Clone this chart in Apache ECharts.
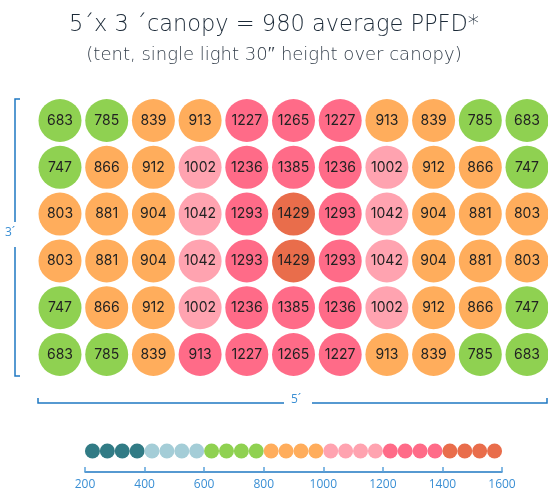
<!DOCTYPE html>
<html>
<head>
<meta charset="utf-8">
<script src="https://cdn.jsdelivr.net/npm/echarts@6/dist/echarts.min.js"></script>
<style>
  html, body { margin: 0; padding: 0; background: #fff; }
  #echarts { width: 548px; height: 491px; }
</style>
</head>
<body>
<div id="echarts"></div>
<script>
// PPFD readings, top row first, 11 columns (left -> right)
const ppfdRows = [
    [683, 785, 839, 913, 1227, 1265, 1227, 913, 839, 785, 683],
    [747, 866, 912, 1002, 1236, 1385, 1236, 1002, 912, 866, 747],
    [803, 881, 904, 1042, 1293, 1429, 1293, 1042, 904, 881, 803],
    [803, 881, 904, 1042, 1293, 1429, 1293, 1042, 904, 881, 803],
    [747, 866, 912, 1002, 1236, 1385, 1236, 1002, 912, 866, 747],
    [683, 785, 839, 913, 1227, 1265, 1227, 913, 839, 785, 683]
];
// colour band of each cell as drawn in the original (0 = 200-400 ... 6 = 1400-1600)
const bandRows = [
    [2, 2, 3, 3, 5, 5, 5, 3, 3, 2, 2],
    [2, 3, 3, 4, 5, 5, 5, 4, 3, 3, 2],
    [3, 3, 3, 4, 5, 6, 5, 4, 3, 3, 3],
    [3, 3, 3, 4, 5, 6, 5, 4, 3, 3, 3],
    [2, 3, 3, 4, 5, 5, 5, 4, 3, 3, 2],
    [2, 2, 3, 5, 5, 5, 5, 3, 3, 2, 2]
];
// legend dots along the scale
const legendValues = [225, 275, 325, 375, 425, 475, 525, 575, 625, 675, 725, 775, 825, 875,
    925, 975, 1025, 1075, 1125, 1175, 1225, 1275, 1325, 1375, 1425, 1475, 1525, 1575];
const scaleTicks = [200, 400, 600, 800, 1000, 1200, 1400, 1600];

const bandColors = ['#317b85', '#a4cdd7', '#8fd151', '#ffad5c', '#ffa3b0', '#ff6b88', '#e96d4b'];
const blue = '#1f78c2';

const chartDom = document.getElementById('echarts');
const myChart = echarts.init(chartDom);
let option;

let gridData = [];
ppfdRows.forEach((row, r) => {
    row.forEach((v, c) => {
        gridData.push({
            value: [c, r, v],
            itemStyle: { color: bandColors[bandRows[r][c]] }
        });
    });
});

let legendData = legendValues.map(v => ({
    value: [v, 1],
    itemStyle: { color: bandColors[Math.floor((v - scaleTicks[0]) / 200)] }
}));

option = {
    animation: false,
    title: {
        text: '5´x 3 ´canopy = 980 average PPFD*',
        subtext: '(tent, single light 30″ height over canopy)',
        left: 'center',
        top: 9,
        itemGap: 9,
        textStyle: {
            fontFamily: 'DejaVu Sans',
            fontWeight: 200,
            fontSize: 22.5,
            color: '#1c2a38'
        },
        subtextStyle: {
            fontFamily: 'DejaVu Sans',
            fontWeight: 200,
            fontSize: 18,
            color: '#36414d'
        }
    },
    grid: [
        { left: 60, right: 21, top: 120.5, bottom: 136.5 },
        { left: 85, right: 46, top: 451, bottom: 19 }
    ],
    xAxis: [
        { gridIndex: 0, type: 'value', min: 0, max: 10, show: false },
        {
            gridIndex: 1,
            type: 'value',
            min: 200,
            max: 1600,
            interval: 200,
            splitLine: { show: false },
            axisLine: { lineStyle: { color: blue, width: 1.5 } },
            axisTick: { inside: true, length: 5, lineStyle: { color: '#5ba3dc', width: 1.5 } },
            axisLabel: {
                color: '#3a8fd4',
                fontSize: 12,
                margin: 7,
                fontFamily: 'Open Sans',
                formatter: (v) => String(v)
            }
        }
    ],
    yAxis: [
        { gridIndex: 0, type: 'value', min: 0, max: 5, inverse: true, show: false },
        { gridIndex: 1, type: 'value', min: 0, max: 1, show: false }
    ],
    series: [
        {
            type: 'scatter',
            xAxisIndex: 0,
            yAxisIndex: 0,
            symbolSize: 43,
            itemStyle: { opacity: 1 },
            emphasis: { disabled: true },
            data: gridData,
            label: {
                show: true,
                position: 'inside',
                color: '#222',
                fontSize: 14,
                fontFamily: 'Inter',
                formatter: (params) => params.value[2]
            }
        },
        {
            type: 'scatter',
            xAxisIndex: 1,
            yAxisIndex: 1,
            symbolSize: 15,
            itemStyle: { opacity: 1 },
            emphasis: { disabled: true },
            data: legendData
        }
    ],
    graphic: [
        // left 3' bracket
        { type: 'polyline', shape: { points: [[20, 99], [15, 99], [15, 222]] }, style: { stroke: blue, lineWidth: 1.5, fill: null } },
        { type: 'polyline', shape: { points: [[15, 247], [15, 376], [20, 376]] }, style: { stroke: blue, lineWidth: 1.5, fill: null } },
        { type: 'text', left: 5, top: 227, style: { text: '3´', fill: '#3a8fd4', fontSize: 12, fontFamily: 'Open Sans' } },
        // bottom 5' bracket
        { type: 'polyline', shape: { points: [[38, 398], [38, 403], [284, 403]] }, style: { stroke: blue, lineWidth: 1.5, fill: null } },
        { type: 'polyline', shape: { points: [[312, 403], [547, 403], [547, 398]] }, style: { stroke: blue, lineWidth: 1.5, fill: null } },
        { type: 'text', left: 291, top: 394, style: { text: '5´', fill: '#3a8fd4', fontSize: 12, fontFamily: 'Open Sans' } }
    ]
};
option && myChart.setOption(option);
</script>
</body>
</html>
